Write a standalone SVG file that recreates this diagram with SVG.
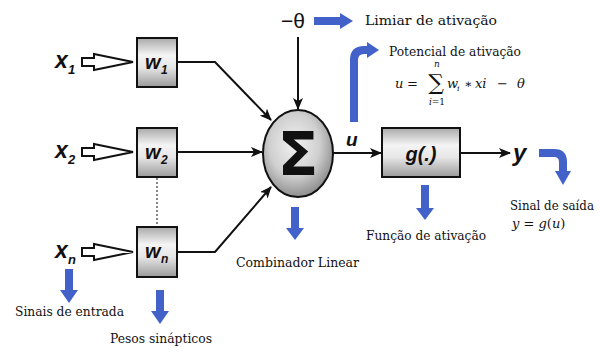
<svg xmlns="http://www.w3.org/2000/svg" width="601" height="354" viewBox="0 0 601 354">
<style>
.box{stroke:#111;stroke-width:2;fill:url(#bg)}
.wire{stroke:#111;stroke-width:2;fill:none}
.hollow{fill:#fff;stroke:#111;stroke-width:2;stroke-linejoin:miter}
.lab{font-family:"Liberation Sans",Arial,sans-serif;font-weight:bold;font-style:italic;fill:#111}
.txt{font-family:"DejaVu Serif","Liberation Serif",serif;font-size:13px;fill:#111}
.math{font-family:"DejaVu Serif","Liberation Serif",serif;font-style:italic;fill:#111}
.mr{font-family:"DejaVu Serif","Liberation Serif",serif;fill:#111}
.blue{fill:#4262c9}
.bstroke{stroke:#4262c9;stroke-width:8;fill:none}
</style>
<defs>
<linearGradient id="bg" x1="0" y1="0" x2="0" y2="1">
<stop offset="0" stop-color="#a9a9a9"/>
<stop offset="0.35" stop-color="#f4f4f4"/>
<stop offset="0.6" stop-color="#e6e6e6"/>
<stop offset="1" stop-color="#9a9a9a"/>
</linearGradient>
<radialGradient id="cg" cx="0.45" cy="0.4" r="0.6">
<stop offset="0" stop-color="#f2f2f2"/>
<stop offset="0.6" stop-color="#cfcfcf"/>
<stop offset="1" stop-color="#8f8f8f"/>
</radialGradient>
<marker id="ah" viewBox="0 0 12 10" refX="11" refY="5" markerWidth="12" markerHeight="10" markerUnits="userSpaceOnUse" orient="auto">
<path d="M0,0 L12,5 L0,10 L3,5 Z" fill="#111"/>
</marker>
</defs>

<g id="connectors">
<polyline class="wire" points="177,62 215,62 271,120" marker-end="url(#ah)"/>
<line class="wire" x1="177" y1="152" x2="262" y2="152" marker-end="url(#ah)"/>
<polyline class="wire" points="177,252 215,252 271,187" marker-end="url(#ah)"/>
<line class="wire" x1="298" y1="37" x2="298" y2="109" marker-end="url(#ah)"/>
<line class="wire" x1="333" y1="153" x2="381" y2="153" marker-end="url(#ah)"/>
<line class="wire" x1="460" y1="153" x2="510" y2="153" marker-end="url(#ah)"/>
<line x1="157" y1="178" x2="157" y2="226" stroke="#888" stroke-width="2" stroke-dasharray="2,2"/>
<polygon class="hollow" points="82,58 94,58 94,54 133,62 94,70 94,66 82,66"/>
<polygon class="hollow" points="82,148 94,148 94,144 133,152 94,160 94,156 82,156"/>
<polygon class="hollow" points="82,248 94,248 94,244 133,252 94,260 94,256 82,256"/>
</g>

<g id="x1"><text class="lab" x="55" y="68" font-size="23">x</text><text class="lab" x="68" y="74" font-size="13">1</text></g>
<g id="x2"><text class="lab" x="55" y="158" font-size="23">x</text><text class="lab" x="68" y="164" font-size="13">2</text></g>
<g id="xn"><text class="lab" x="55" y="258" font-size="23">x</text><text class="lab" x="68" y="264" font-size="13">n</text></g>

<g id="w1"><rect class="box" x="137" y="38" width="40" height="49"/><text class="lab" x="145" y="69" font-size="20">w</text><text class="lab" x="161" y="74" font-size="12">1</text></g>
<g id="w2"><rect class="box" x="137" y="128" width="40" height="49"/><text class="lab" x="145" y="159" font-size="20">w</text><text class="lab" x="161" y="164" font-size="12">2</text></g>
<g id="wn"><rect class="box" x="137" y="227" width="40" height="50"/><text class="lab" x="145" y="258" font-size="20">w</text><text class="lab" x="161" y="263" font-size="12">n</text></g>

<g id="sum">
<ellipse cx="298" cy="153.5" rx="35" ry="43.5" fill="url(#cg)" stroke="#111" stroke-width="2"/>
<text x="298" y="175" font-family="'DejaVu Sans',sans-serif" font-weight="bold" font-size="60" text-anchor="middle" fill="#111">Σ</text>
</g>

<g id="theta"><text x="293" y="28" font-family="'Liberation Sans',Arial,sans-serif" font-size="21" text-anchor="middle" fill="#111">−θ</text></g>
<g id="u"><text class="lab" x="346" y="146" font-size="19">u</text></g>

<g id="g"><rect class="box" x="382" y="128" width="78" height="49"/><text class="lab" x="421" y="161" font-size="20" text-anchor="middle" font-style="normal"><tspan font-style="italic">g</tspan>(.)</text></g>
<g id="y"><text class="lab" x="513" y="161" font-size="24">y</text></g>

<g id="annotations">
<path class="blue" d="M314,17 H340 V13 L353,21 L340,29 V25 H314 Z"/>
<text class="txt" x="365" y="25" textLength="132" lengthAdjust="spacingAndGlyphs">Limiar de ativação</text>

<path class="bstroke" d="M354,122 V60 Q354,50 364,50 H368"/>
<polygon class="blue" points="367,42 379,50 367,58"/>
<text class="txt" x="389" y="56" textLength="132" lengthAdjust="spacingAndGlyphs">Potencial de ativação</text>

<g id="formula">
<text class="math" x="395" y="88" font-size="13">u</text>
<text class="mr" x="407" y="88" font-size="13">=</text>
<text class="mr" x="436" y="90" font-size="22" text-anchor="middle">∑</text>
<text class="math" x="437" y="67" font-size="9" text-anchor="middle">n</text>
<text class="math" x="437" y="105" font-size="9" text-anchor="middle">i<tspan font-style="normal">=1</tspan></text>
<text class="math" x="447" y="88" font-size="13">w</text>
<text class="math" x="457" y="91" font-size="8">i</text>
<text class="mr" x="464" y="88" font-size="12">∗</text>
<text class="math" x="475" y="88" font-size="13">xi</text>
<text class="mr" x="497" y="88" font-size="13">−</text>
<text class="math" x="517" y="88" font-size="13">θ</text>
</g>

<path class="blue" d="M291,207 H299 V228 H304 L295,240 L286,228 H291 Z"/>
<text class="txt" x="236" y="267" textLength="123" lengthAdjust="spacingAndGlyphs">Combinador Linear</text>

<path class="blue" d="M421,185 H429 V208 H434 L425,220 L416,208 H421 Z"/>
<text class="txt" x="366" y="240" textLength="120" lengthAdjust="spacingAndGlyphs">Função de ativação</text>

<path class="bstroke" d="M539,153 H554 Q563,153 563,162 V172"/>
<polygon class="blue" points="555,171 571,171 563,185"/>
<text class="txt" x="510" y="210" font-size="12" textLength="84" lengthAdjust="spacingAndGlyphs">Sinal de saída</text>
<text class="math" x="512" y="228" font-size="13">y <tspan font-style="normal">=</tspan> g<tspan font-style="normal">(</tspan>u<tspan font-style="normal">)</tspan></text>

<path class="blue" d="M65,269 H73 V290 H78 L69,303 L60,290 H65 Z"/>
<text class="txt" x="15" y="316" textLength="109" lengthAdjust="spacingAndGlyphs">Sinais de entrada</text>

<path class="blue" d="M156,290 H164 V311 H169 L160,324 L151,311 H156 Z"/>
<text class="txt" x="110" y="343" textLength="102" lengthAdjust="spacingAndGlyphs">Pesos sinápticos</text>
</g>
</svg>
